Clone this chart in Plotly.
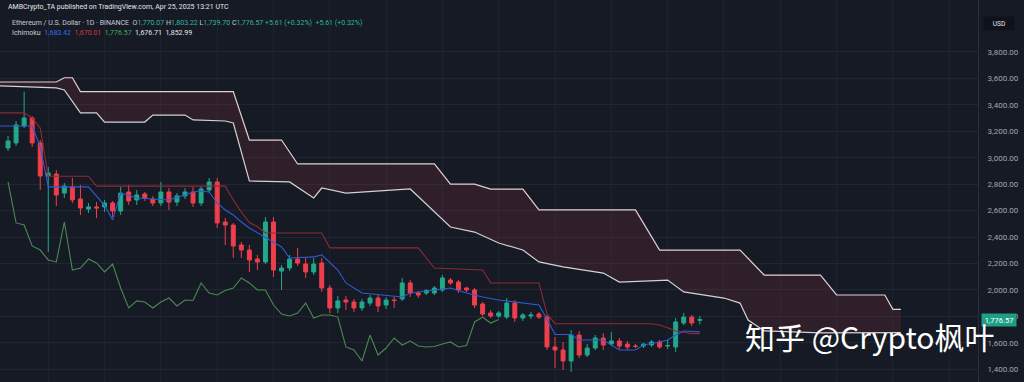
import pandas as pd
import plotly.graph_objects as go

# ---------------- data ----------------
dates = pd.date_range("2025-01-29", periods=87, freq="D")

opens = [3074, 3112, 3240, 3301, 3112, 2862, 2877, 2733, 2779, 2688,
         2612, 2628, 2628, 2658, 2597, 2741, 2681, 2726, 2688, 2658,
         2741, 2665, 2711, 2741, 2658, 2756, 2817, 2514, 2491, 2340,
         2302, 2234, 2212, 2514, 2143, 2166, 2234, 2196, 2136, 2204,
         2015, 1864, 1924, 1909, 1864, 1901, 1939, 1886, 1924, 1932,
         2053, 1977, 1977, 1977, 2000, 2075, 2060, 2015, 2000, 1894,
         1826, 1803, 1795, 1901, 1788, 1803, 1818, 1795, 1569, 1546,
         1463, 1659, 1508, 1561, 1637, 1591, 1614, 1591, 1576, 1576,
         1584, 1607, 1576, 1569, 1750, 1795, 1770.07]
highs = [3165, 3278, 3500, 3316, 3134, 2930, 2907, 2809, 2847, 2794,
         2658, 2665, 2681, 2673, 2779, 2794, 2756, 2741, 2711, 2817,
         2771, 2733, 2771, 2779, 2786, 2847, 2847, 2544, 2507, 2363,
         2340, 2265, 2552, 2552, 2189, 2265, 2317, 2242, 2242, 2242,
         2038, 1954, 1954, 1932, 1932, 1962, 1962, 1947, 1947, 2091,
         2075, 1992, 2007, 2030, 2113, 2091, 2075, 2023, 2015, 1909,
         1848, 1841, 1939, 1924, 1826, 1833, 1833, 1811, 1644, 1607,
         1697, 1689, 1591, 1659, 1674, 1682, 1637, 1614, 1591, 1599,
         1622, 1622, 1622, 1788, 1826, 1811, 1803.22]
lows = [3051, 3089, 3225, 3081, 2756, 2287, 2635, 2696, 2658, 2567,
        2582, 2544, 2590, 2552, 2567, 2643, 2643, 2673, 2635, 2635,
        2605, 2635, 2688, 2628, 2635, 2733, 2469, 2340, 2242, 2242,
        2136, 2151, 2197, 2098, 2000, 2143, 2181, 2091, 2113, 1985,
        1826, 1826, 1848, 1833, 1841, 1879, 1833, 1856, 1864, 1917,
        1947, 1939, 1962, 1962, 1985, 2038, 1977, 1985, 1864, 1803,
        1788, 1788, 1780, 1758, 1765, 1780, 1780, 1546, 1410, 1395,
        1380, 1485, 1493, 1546, 1546, 1576, 1554, 1546, 1561, 1561,
        1569, 1554, 1554, 1531, 1735, 1727, 1739.70]
closes = [3127, 3248, 3301, 3112, 2862, 2885, 2718, 2786, 2681, 2620,
          2628, 2620, 2658, 2597, 2733, 2673, 2718, 2696, 2658, 2741,
          2665, 2711, 2741, 2658, 2764, 2817, 2507, 2491, 2333, 2302,
          2227, 2212, 2514, 2151, 2166, 2234, 2204, 2136, 2196, 2015,
          1864, 1917, 1909, 1864, 1909, 1939, 1879, 1924, 1920, 2053,
          1977, 1962, 1996, 2015, 2091, 2053, 2000, 2000, 1886, 1818,
          1803, 1826, 1901, 1788, 1811, 1811, 1795, 1569, 1546, 1463,
          1659, 1508, 1561, 1637, 1584, 1614, 1576, 1569, 1573, 1591,
          1607, 1569, 1580, 1758, 1795, 1750, 1776.57]

# Ichimoku lines (vertices)
tenkan_dates = ["2025-01-28", "2025-02-01", "2025-02-02", "2025-02-03", "2025-02-08",
                "2025-02-09", "2025-02-10", "2025-02-11", "2025-02-12", "2025-02-14",
                "2025-02-18", "2025-02-20", "2025-02-21", "2025-02-22", "2025-02-23",
                "2025-02-24", "2025-02-25", "2025-02-26", "2025-02-27", "2025-02-28",
                "2025-03-04", "2025-03-05", "2025-03-08", "2025-03-09", "2025-03-11",
                "2025-03-12", "2025-03-14", "2025-03-19", "2025-03-20", "2025-03-23",
                "2025-03-25", "2025-03-27", "2025-03-29", "2025-03-31", "2025-04-03",
                "2025-04-05", "2025-04-06", "2025-04-07", "2025-04-09", "2025-04-10",
                "2025-04-13", "2025-04-14", "2025-04-15", "2025-04-17", "2025-04-18",
                "2025-04-20", "2025-04-21", "2025-04-22", "2025-04-23", "2025-04-25"]
tenkan_values = [3240, 3240, 3083, 2780, 2780,
                 2710, 2640, 2530, 2733, 2696,
                 2681, 2718, 2741, 2749, 2741,
                 2658, 2605, 2567, 2514, 2469,
                 2325, 2242, 2250, 2265, 2151,
                 2053, 1977, 1947, 1977, 2000,
                 2015, 1977, 1947, 1924, 1901,
                 1886, 1780, 1663, 1663, 1622,
                 1622, 1584, 1546, 1546, 1584,
                 1607, 1622, 1660, 1690, 1683.42]

kijun_dates = ["2025-01-28", "2025-01-31", "2025-02-01", "2025-02-02", "2025-02-03",
               "2025-02-08", "2025-02-09", "2025-02-25", "2025-02-26", "2025-02-27",
               "2025-02-28", "2025-03-01", "2025-03-02", "2025-03-09", "2025-03-10",
               "2025-03-21", "2025-03-23", "2025-03-29", "2025-03-30", "2025-04-05",
               "2025-04-06", "2025-04-07", "2025-04-19", "2025-04-20", "2025-04-21",
               "2025-04-22", "2025-04-24", "2025-04-25"]
kijun_values = [3339, 3339, 3301, 3225, 2860,
                2860, 2785, 2785, 2681, 2590,
                2510, 2480, 2431, 2431, 2318,
                2318, 2166, 2151, 2053, 2053,
                1820, 1745, 1745, 1735, 1715,
                1690, 1670.01, 1670.01]

span_a_dates = ["2025-01-28", "2025-02-04", "2025-02-05", "2025-02-07", "2025-02-09",
                "2025-02-10", "2025-02-15", "2025-02-16", "2025-02-20", "2025-02-21",
                "2025-02-25", "2025-02-26", "2025-02-28", "2025-03-05", "2025-03-08",
                "2025-03-09", "2025-03-12", "2025-03-20", "2025-03-25", "2025-03-28",
                "2025-03-31", "2025-04-03", "2025-04-05", "2025-04-08", "2025-04-13",
                "2025-04-15", "2025-04-21", "2025-04-23", "2025-04-28", "2025-04-30",
                "2025-05-01", "2025-05-03", "2025-05-10", "2025-05-20"]
span_a_values = [3543, 3528, 3513, 3339, 3339,
                 3270, 3270, 3323, 3323, 3286,
                 3278, 3263, 2824, 2817, 2696,
                 2771, 2733, 2764, 2476, 2438,
                 2355, 2302, 2212, 2174, 2128,
                 2060, 2075, 1985, 1939, 1901,
                 1773, 1690, 1675, 1676.71]

span_b_dates = ["2025-01-28", "2025-02-04", "2025-02-05", "2025-02-06", "2025-02-07",
                "2025-02-26", "2025-02-28", "2025-03-04", "2025-03-06", "2025-03-23",
                "2025-03-25", "2025-03-28", "2025-03-30", "2025-04-03", "2025-04-05",
                "2025-04-17", "2025-04-20", "2025-04-30", "2025-05-03", "2025-05-10",
                "2025-05-12", "2025-05-18", "2025-05-19", "2025-05-20"]
span_b_values = [3573, 3573, 3605, 3605, 3500,
                 3500, 3134, 3134, 2953, 2953,
                 2800, 2800, 2763, 2763, 2605,
                 2605, 2302, 2302, 2113, 2113,
                 1962, 1962, 1853, 1852.99]

lag_bars = 25
price_ticks = [1400, 1600, 1800, 2000, 2200, 2400, 2600, 2800, 3000,
               3200, 3400, 3600, 3800]

header_title = "AMBCrypto_TA published on TradingView.com, Apr 25, 2025 13:21 UTC"
symbol_text = "Ethereum / U.S. Dollar · 1D · BINANCE"
indicator_name = "Ichimoku"
watermark = "知乎 @Crypto枫叶"

# ---------------- figure ----------------
BG = "#161a25"
GRID = "#222633"
UP = "#22a88c"
DOWN = "#ef3f4c"

fig = go.Figure()

# cloud
fig.add_trace(go.Scatter(x=span_b_dates, y=span_b_values, mode="lines",
                         line=dict(color="#e2cfd2", width=1.2), hoverinfo="skip"))
fig.add_trace(go.Scatter(x=span_a_dates, y=span_a_values, mode="lines",
                         line=dict(color="#d2d2d2", width=1.2), fill="tonexty",
                         fillcolor="rgba(175,60,75,0.16)", hoverinfo="skip"))

# lagging span: closes shifted back
lag_x = [d - pd.Timedelta(days=lag_bars) for d in dates[lag_bars:]]
fig.add_trace(go.Scatter(x=lag_x, y=closes[lag_bars:], mode="lines",
                         line=dict(color="#4a8a50", width=1.1), hoverinfo="skip"))

fig.add_trace(go.Scatter(x=kijun_dates, y=kijun_values, mode="lines",
                         line=dict(color="#8e2a35", width=1.1), hoverinfo="skip"))
fig.add_trace(go.Scatter(x=tenkan_dates, y=tenkan_values, mode="lines",
                         line=dict(color="#2f5bd0", width=1.1), hoverinfo="skip"))

fig.add_trace(go.Candlestick(
    x=dates, open=opens, high=highs, low=lows, close=closes,
    increasing=dict(line=dict(color=UP, width=1), fillcolor=UP),
    decreasing=dict(line=dict(color=DOWN, width=1), fillcolor=DOWN),
    whiskerwidth=0, hoverinfo="skip"))

fig.update_layout(
    width=1024, height=382,
    margin=dict(l=0, r=46, t=0, b=0),
    paper_bgcolor=BG, plot_bgcolor=BG,
    showlegend=False,
    font=dict(family="Roboto, DejaVu Sans, sans-serif"),
    xaxis=dict(type="date", range=["2025-01-28 00:00", "2025-05-29 14:00"],
               showticklabels=False, showgrid=True, gridcolor="#1e2230",
               tick0="2025-02-03", dtick=7 * 86400000, zeroline=False,
               rangeslider=dict(visible=False), fixedrange=True),
    yaxis=dict(side="right", range=[1304, 4193], tickvals=price_ticks,
               tickformat=",.2f", tickfont=dict(size=8, color="#a3a6af"),
               showgrid=True, gridcolor=GRID, zeroline=False, ticks="",
               ticklabelstandoff=7, showline=True, linecolor="#2a2e39",
               fixedrange=True),
)

def paper_y(px):
    return 1 - px / 382

gray = "#c9ccd3"
teal = "#2fb59b"
ann = []
ann.append(dict(text=header_title, x=0.006, y=paper_y(7.5), xref="paper", yref="paper",
                xanchor="left", yanchor="middle", showarrow=False,
                font=dict(size=7, color="#e6e6e6")))
line2 = (f"<span style='color:{gray}'>{symbol_text}</span>  "
         f"<span style='color:{gray}'>O</span><span style='color:{teal}'>{opens[-1]:,.2f}</span> "
         f"<span style='color:{gray}'>H</span><span style='color:{teal}'>{highs[-1]:,.2f}</span> "
         f"<span style='color:{gray}'>L</span><span style='color:{teal}'>{lows[-1]:,.2f}</span> "
         f"<span style='color:{gray}'>C</span><span style='color:{teal}'>{closes[-1]:,.2f} "
         f"+5.61 (+0.32%)  +5.61 (+0.32%)</span>")
ann.append(dict(text=line2, x=0.010, y=paper_y(23), xref="paper", yref="paper",
                xanchor="left", yanchor="middle", showarrow=False,
                font=dict(size=7, color=gray)))
line3 = (f"<span style='color:{gray}'>{indicator_name}</span>  "
         f"<span style='color:#2f6bf0'>{tenkan_values[-1]:,.2f}</span>  "
         f"<span style='color:#d9343f'>{kijun_values[-1]:,.2f}</span>  "
         f"<span style='color:#3fae55'>{closes[-1]:,.2f}</span>  "
         f"<span style='color:#e8e8e8'>{span_a_values[-1]:,.2f}</span>  "
         f"<span style='color:#e8e8e8'>{span_b_values[-1]:,.2f}</span>")
ann.append(dict(text=line3, x=0.010, y=paper_y(33), xref="paper", yref="paper",
                xanchor="left", yanchor="middle", showarrow=False,
                font=dict(size=7, color=gray)))
# USD box
ann.append(dict(text="USD", x=999 / 978, y=paper_y(24), xref="paper", yref="paper",
                xanchor="center", yanchor="middle", showarrow=False,
                bgcolor="#0f121a", width=28, height=11,
                font=dict(size=6.5, color="#e6e6e6")))
# last price label
ann.append(dict(text=f"{closes[-1]:,.2f}", x=999 / 978, y=closes[-1], xref="paper", yref="y",
                xanchor="center", yanchor="middle", showarrow=False,
                bgcolor="#1f9e86", width=32, height=10,
                font=dict(size=7.5, color="#ffffff")))
# watermark
ann.append(dict(text=watermark, x=743 / 978, y=paper_y(336), xref="paper", yref="paper",
                xanchor="left", yanchor="middle", showarrow=False,
                font=dict(size=30, color="#ffffff",
                          family="Noto Sans CJK SC, Noto Sans, sans-serif")))
fig.update_layout(annotations=ann)

fig.write_html("out.html", config={"displayModeBar": False},
               post_script="document.body.style.margin='0';document.body.style.overflow='hidden';")
